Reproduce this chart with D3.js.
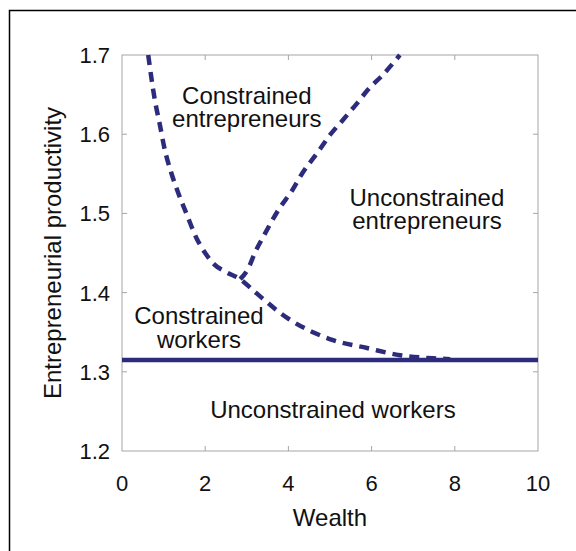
<!DOCTYPE html>
<html>
<head>
<meta charset="utf-8">
<script src="https://cdn.jsdelivr.net/npm/d3@7"></script>
<style>
  body { margin: 0; background: #fff; }
  text { font-family: "Liberation Sans", Arial, sans-serif; fill: #111; }
</style>
</head>
<body>
<div id="chart"></div>
<script>
// boundary between constrained entrepreneurs / constrained workers
const lowerWealth = [0.63, 0.79, 0.91, 1.03, 1.18, 1.35, 1.54, 1.78, 2.00, 2.21, 2.50, 2.84, 3.15, 3.37, 3.97, 4.59, 5.07, 5.89, 6.68, 7.48, 7.89];
const lowerProd   = [1.700, 1.643, 1.612, 1.580, 1.552, 1.526, 1.501, 1.470, 1.450, 1.436, 1.426, 1.417, 1.403, 1.393, 1.368, 1.350, 1.340, 1.330, 1.321, 1.317, 1.316];
// boundary between constrained / unconstrained entrepreneurs
const upperWealth = [2.84, 3.03, 3.20, 3.39, 3.61, 3.78, 4.09, 4.35, 4.69, 5.00, 5.31, 5.65, 5.91, 6.27, 6.68];
const upperProd   = [1.417, 1.430, 1.451, 1.470, 1.491, 1.506, 1.529, 1.552, 1.576, 1.599, 1.618, 1.639, 1.656, 1.675, 1.700];
// occupational threshold
const thresholdProd = 1.315;
const xTicks = [0, 2, 4, 6, 8, 10];
const yTicks = [1.2, 1.3, 1.4, 1.5, 1.6, 1.7];

const W = 576, H = 551;
const margin = {top: 55, right: 38, bottom: 100, left: 122};
const width = W - margin.left - margin.right,
      height = H - margin.top - margin.bottom;
const navy = "#2d2c7c";

const svg = d3.select("#chart").append("svg")
  .attr("width", W).attr("height", H);

// outer frame (clipped at right/bottom as in the figure)
svg.append("rect")
  .attr("x", 9.5).attr("y", 10.5)
  .attr("width", 620).attr("height", 620)
  .attr("fill", "none").attr("stroke", "#000").attr("stroke-width", 1.5);

const g = svg.append("g")
  .attr("transform", "translate(" + margin.left + "," + margin.top + ")");

const x = d3.scaleLinear().domain([0, 10]).range([0, width]);
const y = d3.scaleLinear().domain([1.2, 1.7]).range([height, 0]);

// box
g.append("rect")
  .attr("x", 0).attr("y", 0).attr("width", width).attr("height", height)
  .attr("fill", "none").attr("stroke", "#a6a6a6").attr("stroke-width", 1);

// inner ticks on all four sides
const tk = 5;
const xin = xTicks.slice(1, -1), yin = yTicks.slice(1, -1);
xin.forEach(v => {
  g.append("line").attr("x1", x(v)).attr("x2", x(v)).attr("y1", height).attr("y2", height - tk);
  g.append("line").attr("x1", x(v)).attr("x2", x(v)).attr("y1", 0).attr("y2", tk);
});
yin.forEach(v => {
  g.append("line").attr("y1", y(v)).attr("y2", y(v)).attr("x1", 0).attr("x2", tk);
  g.append("line").attr("y1", y(v)).attr("y2", y(v)).attr("x1", width).attr("x2", width - tk);
});
g.selectAll("line").attr("stroke", "#a6a6a6").attr("stroke-width", 1);

// tick labels
g.selectAll(".xl").data(xTicks).enter().append("text")
  .attr("x", d => x(d)).attr("y", height + 40)
  .attr("text-anchor", "middle").attr("font-size", "22px")
  .text(d => d);
g.selectAll(".yl").data(yTicks).enter().append("text")
  .attr("x", -12).attr("y", d => y(d) + 8)
  .attr("text-anchor", "end").attr("font-size", "22px")
  .text(d => d.toFixed(1));

// axis titles
g.append("text")
  .attr("x", width / 2).attr("y", height + 75)
  .attr("text-anchor", "middle").attr("font-size", "24px")
  .text("Wealth");
g.append("text")
  .attr("transform", "translate(" + (-61) + "," + (height / 2) + ") rotate(-90)")
  .attr("text-anchor", "middle").attr("font-size", "24px")
  .text("Entrepreneurial productivity");

// curves
const line = d3.line().x(d => x(d[0])).y(d => y(d[1])).curve(d3.curveMonotoneX);

g.append("line")
  .attr("x1", x(0)).attr("x2", x(10))
  .attr("y1", y(thresholdProd)).attr("y2", y(thresholdProd))
  .attr("stroke", navy).attr("stroke-width", 4.5);

g.append("path")
  .datum(lowerWealth.map((w, i) => [w, lowerProd[i]]))
  .attr("d", line).attr("fill", "none")
  .attr("stroke", navy).attr("stroke-width", 4.5)
  .attr("stroke-dasharray", "10,7");

g.append("path")
  .datum(upperWealth.map((w, i) => [w, upperProd[i]]))
  .attr("d", line).attr("fill", "none")
  .attr("stroke", navy).attr("stroke-width", 4.5)
  .attr("stroke-dasharray", "10,7");

// region labels, one text per line
const labels = [
  {lines: ["Constrained", "entrepreneurs"], cx: 3.0, cy: 1.634},
  {lines: ["Unconstrained", "entrepreneurs"], cx: 7.33, cy: 1.505},
  {lines: ["Constrained", "workers"], cx: 1.85, cy: 1.355},
  {lines: ["Unconstrained workers"], cx: 5.07, cy: 1.252}
];
labels.forEach(l => {
  const n = l.lines.length;
  l.lines.forEach((s, i) => {
    g.append("text")
      .attr("text-anchor", "middle").attr("font-size", "24px")
      .attr("x", x(l.cx))
      .attr("y", y(l.cy) + 8 + (i - (n - 1) / 2) * 23.5)
      .text(s);
  });
});
</script>
</body>
</html>
